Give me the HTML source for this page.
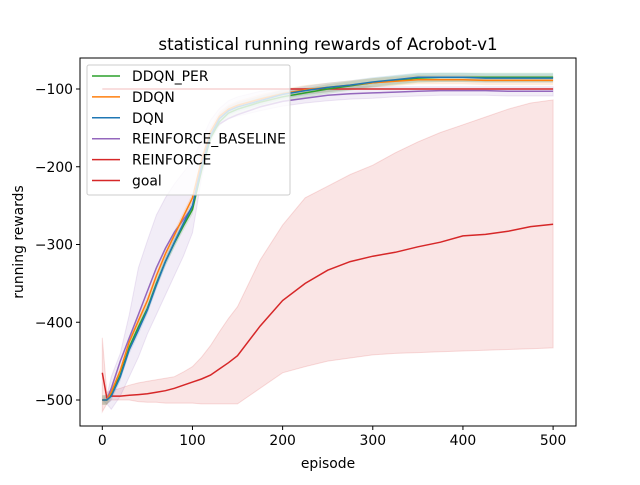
<!DOCTYPE html>
<html><head><meta charset="utf-8"><style>
body{margin:0;background:#fff;}
svg{font-family:"DejaVu Sans","Liberation Sans",sans-serif;}
</style></head><body>
<svg id="chart" width="640" height="480" viewBox="0 0 640 480">
<rect width="640" height="480" fill="#fff"/>
<g id="plot"></g>
<text x="328" y="50" font-size="16.7" text-anchor="middle">statistical running rewards of Acrobot-v1</text>
<text x="328" y="468" font-size="13.9" text-anchor="middle">episode</text>
<text transform="translate(23,242) rotate(-90)" font-size="13.9" text-anchor="middle">running rewards</text>
</svg>
<script>
const episodes=[0,5,10,20,30,40,50,60,70,80,90,100,110,120,130,140,150,175,200,225,250,275,300,325,350,375,400,425,450,475,500];
const dqn=[-500,-500,-495,-470,-435,-410,-384,-352,-322,-297,-273,-250,-200,-160,-138,-128,-123,-115,-107,-102,-98,-95,-91,-88,-85,-85,-85,-86,-86,-86,-86];
const ddqn=[-500,-500,-490,-462,-425,-398,-372,-340,-312,-288,-264,-240,-192,-155,-135,-126,-121,-113,-106,-101,-98,-95,-92,-90,-88,-88,-88,-89,-89,-89,-89];
const ddqnPer=[-500,-500,-492,-468,-432,-406,-382,-350,-322,-298,-276,-255,-205,-163,-142,-131,-126,-117,-110,-105,-100,-96,-92,-89,-86,-85,-85,-85,-85,-85,-85];
const baseline=[-500,-500,-485,-450,-420,-390,-360,-330,-305,-284,-268,-252,-195,-158,-145,-138,-133,-123,-116,-112,-108,-106,-105,-104,-103,-102,-102,-102,-103,-103,-103];
const baselineLo=[-500,-505,-512,-495,-470,-445,-415,-390,-365,-340,-315,-285,-215,-165,-145,-138,-135,-128,-122,-118,-115,-113,-112,-110,-109,-108,-108,-108,-109,-109,-109];
const baselineHi=[-500,-495,-470,-440,-390,-330,-295,-262,-240,-222,-207,-193,-165,-140,-125,-115,-110,-103,-100,-99,-98,-97,-97,-97,-97,-97,-97,-97,-97,-97,-97];
const reinforce=[-465,-497,-495,-495,-494,-493,-492,-490,-488,-485,-481,-477,-473,-468,-460,-452,-443,-405,-372,-350,-333,-322,-315,-310,-303,-297,-289,-287,-283,-277,-274];
const reinforceLo=[-515,-505,-500,-500,-500,-502,-503,-503,-504,-504,-504,-504,-505,-505,-505,-505,-505,-485,-465,-457,-450,-446,-442,-440,-439,-438,-437,-436,-435,-434,-433];
const reinforceHi=[-420,-490,-488,-485,-481,-478,-476,-474,-472,-470,-464,-457,-445,-430,-412,-395,-380,-320,-275,-240,-225,-210,-198,-182,-168,-156,-146,-136,-126,-118,-114];
const goalValue=-100;
const xTicks=[0,100,200,300,400,500];
const yTicks=[-500,-400,-300,-200,-100];
const legendLabels=["DDQN_PER","DDQN","DQN","REINFORCE_BASELINE","REINFORCE","goal"];
const legendColors=["#2ca02c","#ff7f0e","#1f77b4","#9467bd","#d62728","#d62728"];

const L=80,R=576,T=58,B=426;
const xs=v=>102.3+v*0.9016;
const ys=v=>400-(v+500)*0.7775;
const NS="http://www.w3.org/2000/svg";
const g=document.getElementById('plot');
function mk(tag,attrs,parent){const e=document.createElementNS(NS,tag);for(const k in attrs)e.setAttribute(k,attrs[k]);(parent||g).appendChild(e);return e;}
function line(vals){return vals.map((v,i)=>(i?'L':'M')+xs(episodes[i]).toFixed(1)+','+ys(v).toFixed(1)).join(' ');}
function band(lo,hi){let d=line(hi);for(let i=lo.length-1;i>=0;i--)d+='L'+xs(episodes[i]).toFixed(1)+','+ys(lo[i]).toFixed(1);return d+'Z';}
function off(vals,o){return vals.map(v=>v+o);}

let e;
e=mk('path',{d:band(reinforceLo,reinforceHi),fill:'#d62728','fill-opacity':0.12,stroke:'#d62728','stroke-opacity':0.15});

e=mk('path',{d:band(baselineLo,baselineHi),fill:'#9467bd','fill-opacity':0.12,stroke:'#9467bd','stroke-opacity':0.15});

[[ddqnPer,'#2ca02c','ddqn-per-band'],[ddqn,'#ff7f0e','ddqn-band'],[dqn,'#1f77b4','dqn-band']].forEach(([s,c,n])=>{
 e=mk('path',{d:band(off(s,-6),off(s,6)),fill:c,'fill-opacity':0.15,stroke:'none'});
 
});
e=mk('line',{x1:xs(0),x2:xs(500),y1:ys(goalValue),y2:ys(goalValue),stroke:'#d62728','stroke-width':1.5});

[[reinforce,'#d62728','reinforce-line'],[baseline,'#9467bd','reinforce-baseline-line'],[ddqnPer,'#2ca02c','ddqn-per-line'],[ddqn,'#ff7f0e','ddqn-line'],[dqn,'#1f77b4','dqn-line']].forEach(([s,c,n])=>{
 e=mk('path',{d:line(s),fill:'none',stroke:c,'stroke-width':1.5});
 
});
e=mk('rect',{x:L,y:T,width:R-L,height:B-T,fill:'none',stroke:'#000','stroke-width':1});

xTicks.forEach(t=>{
 e=mk('line',{x1:xs(t),x2:xs(t),y1:B,y2:B+4,stroke:'#000'});
 
 e=mk('text',{x:xs(t),y:B+19,'font-size':13.9,'text-anchor':'middle'});e.textContent=t;
 
});
yTicks.forEach(t=>{
 e=mk('line',{x1:L-4,x2:L,y1:ys(t),y2:ys(t),stroke:'#000'});
 
 e=mk('text',{x:L-7,y:ys(t)+5,'font-size':13.9,'text-anchor':'end'});e.textContent='\u2212'+Math.abs(t);
 
});
const lg=mk('g',{});

mk('rect',{x:87,y:65,width:203,height:130,rx:2,fill:'#fff','fill-opacity':0.8,stroke:'#ccc'},lg);
legendLabels.forEach((lab,i)=>{
 const y=76+i*20.9;
 e=mk('line',{x1:92,x2:120,y1:y,y2:y,stroke:legendColors[i],'stroke-width':1.5},lg);
 
 e=mk('text',{x:132,y:y+5,'font-size':13.9},lg);e.textContent=lab;
 
});
</script>
</body></html>
